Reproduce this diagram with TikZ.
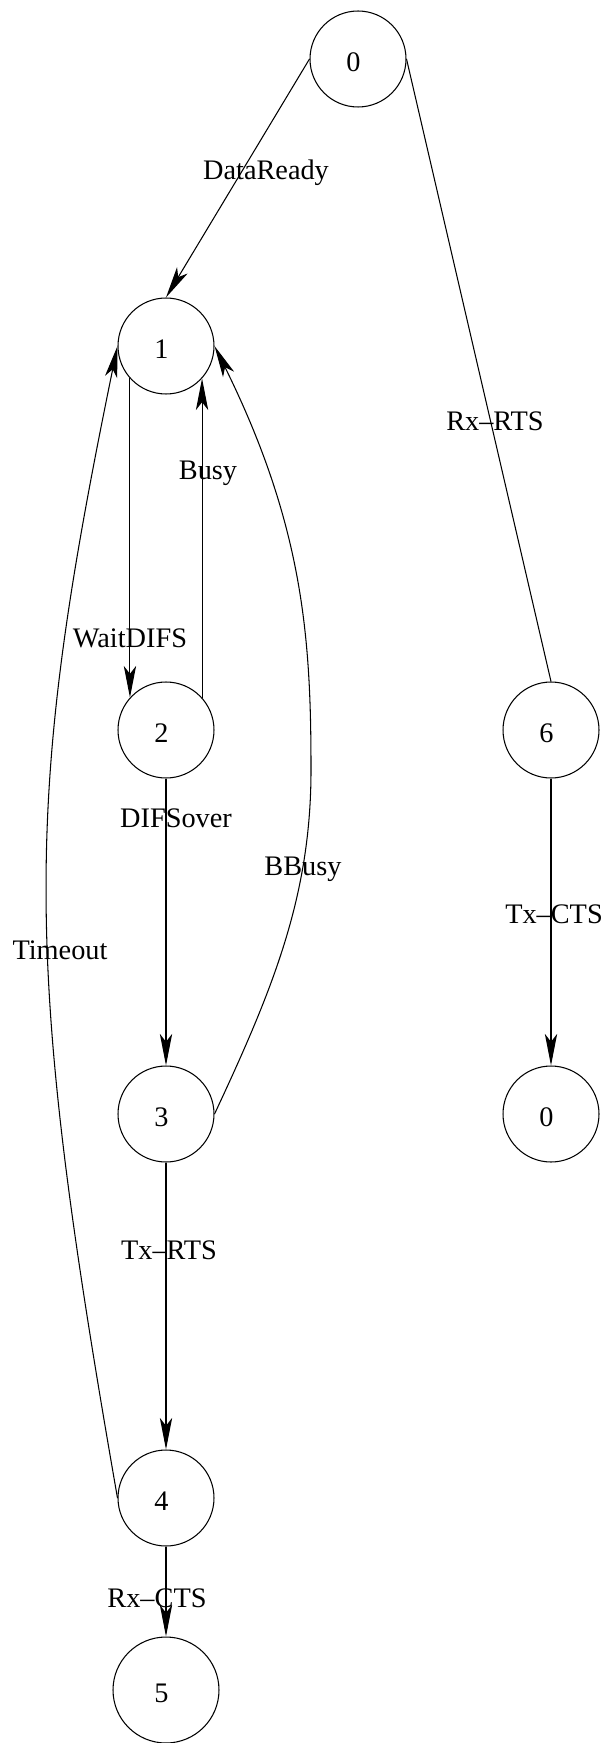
\documentclass[tikz,border=0pt]{standalone}
\usepackage{fontspec}
\setmainfont{Liberation Serif}
\usepackage{tikz}
\usetikzlibrary{arrows.meta}

\tikzset{
  state/.style={draw, circle, line width=0.6pt, inner sep=0pt, minimum size=1.92cm,
    label={[xshift=-0.09cm,yshift=-0.07cm]center:#1}},
  bigstate/.style={state=#1, minimum size=2.12cm},
  lbl/.style={anchor=base, inner sep=0pt},
  trans/.style={line width=0.6pt, -{Stealth[length=18pt,width=7pt,inset=4.5pt]}},
  plain/.style={line width=0.6pt}
}

\begin{document}
\begin{tikzpicture}[x=0.02cm,y=-0.02cm]
\fontsize{16.1pt}{19pt}\selectfont
\useasboundingbox (0,0) rectangle (606,1743);

% states
\node[state=0] (s0) at (358,59) {};
\node[state=1] (s1) at (166,346) {};
\node[state=2] (s2) at (166,730) {};
\node[state=3] (s3) at (166,1114) {};
\node[state=4] (s4) at (166,1498) {};
\node[bigstate=5] (s5) at (166,1690) {};
\node[state=6] (s6) at (551,730) {};
\node[state=0] (s0b) at (551,1114) {};

% transitions
\draw[trans] (s0.west) -- (s1.north);
\draw[plain] (s0.east) -- (s6.north);
\draw[trans] (s1.222) -- (s2.138);
\draw[trans] (s2.42) -- (s1.318);
\draw[trans] (s2.south) -- (s3.north);
\draw[trans] (s3.east) .. controls (274,987) and (311,895) .. (311,770)
  .. controls (311,640) and (304,527) .. (s1.east);
\draw[trans] (s3.south) -- (s4.north);
\draw[trans] (s4.west) .. controls (23,957) and (23,806) .. (s1.west);
\draw[trans] (s4.south) -- (s5.north);
\draw[trans] (s6.south) -- (s0b.north);

% labels
\node[lbl] (lDataReady) at (266,180) {DataReady};
\node[lbl] (lRxRTS) at (495,431) {Rx--RTS};
\node[lbl] (lBusy) at (208,479) {Busy};
\node[lbl] (lWaitDIFS) at (130,647) {WaitDIFS};
\node[lbl] (lDIFSover) at (176,827) {DIFSover};
\node[lbl] (lBBusy) at (303,875) {BBusy};
\node[lbl] (lTimeout) at (60,959) {Timeout};
\node[lbl] (lTxCTS) at (554,923) {Tx--CTS};
\node[lbl] (lTxRTS) at (169,1259) {Tx--RTS};
\node[lbl] (lRxCTS) at (157,1607) {Rx--CTS};
\end{tikzpicture}
\end{document}
